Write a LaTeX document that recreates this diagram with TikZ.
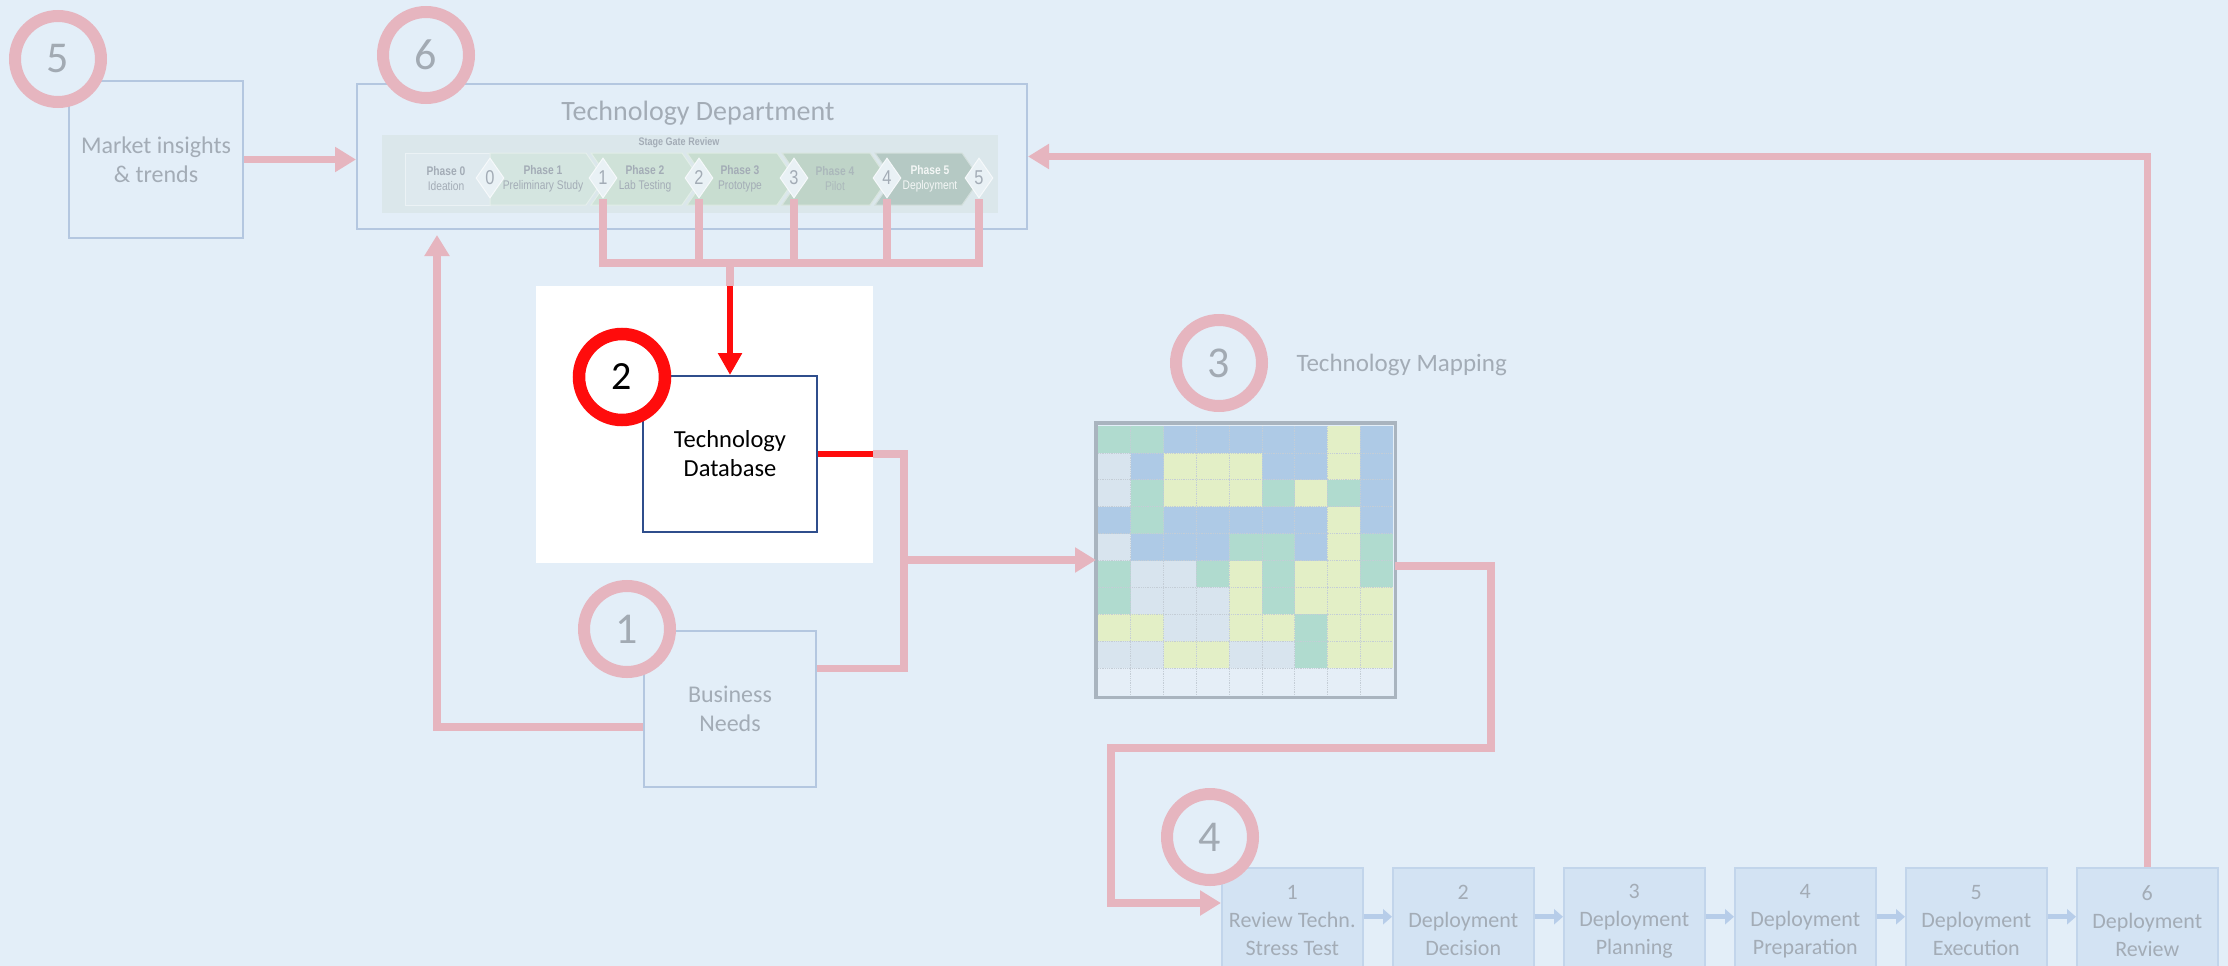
\documentclass[tikz,border=0pt]{standalone}
\usepackage{fontspec}
\setmainfont{Carlito}
\newfontfamily\narrowfont[FakeStretch=0.82]{Liberation Sans}
\usetikzlibrary{arrows.meta,calc,shapes.geometric}
\definecolor{bg}{HTML}{E3EEF8}
\definecolor{pinkl}{HTML}{E6B5BF}
\definecolor{grayt}{HTML}{A3ACB6}
\definecolor{boxb}{HTML}{B4C7E0}
\definecolor{dbb}{HTML}{2F4E8C}
\definecolor{redc}{HTML}{FF0C0C}
\definecolor{sgpanel}{HTML}{DBE7EB}
\definecolor{ph0}{HTML}{DEE9EE}
\definecolor{ph1}{HTML}{D4E5E0}
\definecolor{ph2}{HTML}{CFE2D8}
\definecolor{ph3}{HTML}{C8DDD0}
\definecolor{ph4}{HTML}{BFD4C8}
\definecolor{ph5}{HTML}{B5C9C4}
\definecolor{dmd}{HTML}{E9F1F5}
\definecolor{cG}{HTML}{B0DBCF}
\definecolor{cB}{HTML}{AECAE6}
\definecolor{cY}{HTML}{E3EFC6}
\definecolor{cL}{HTML}{D8E4EE}
\definecolor{cW}{HTML}{E5EEF7}
\definecolor{gridl}{HTML}{C4CDD6}
\definecolor{framec}{HTML}{A9B4BF}
\definecolor{bfill}{HTML}{D3E3F3}
\definecolor{bbord}{HTML}{C2D5EB}
\definecolor{sarr}{HTML}{B7CDE9}
\definecolor{ringt}{HTML}{A2AAB3}
\begin{document}
\begin{tikzpicture}[x=1pt,y=-1pt,
  ring/.style={circle, draw=pinkl, fill=bg, line width=12pt, minimum size=86pt, inner sep=0pt, text=ringt, font=\fontsize{44}{44}\selectfont},
  pbox/.style={draw=boxb, line width=2pt, text=grayt, align=center, font=\fontsize{24}{29}\selectfont, anchor=north west, inner sep=0pt},
  stepbox/.style={fill=bfill, draw=bbord, line width=1.5pt, text=grayt, align=center, font=\fontsize{22}{28}\selectfont, anchor=north west, inner sep=0pt, minimum width=141pt, minimum height=106pt},
  flow/.style={draw=pinkl, line width=7.5pt},
  flowarrow/.style={flow, -{Triangle[length=21pt,width=24pt]}},
  redline/.style={draw=redc, line width=5.5pt},
  redarrow/.style={redline, -{Triangle[length=22pt,width=23pt]}},
  sarrow/.style={draw=sarr, line width=5pt, -{Triangle[length=9pt,width=15pt]}},
  gate/.style={diamond, fill=dmd, draw=white!60!dmd, line width=1pt, minimum width=28pt, minimum height=40pt, inner sep=0pt, text=grayt, font=\narrowfont\fontsize{20}{20}\selectfont},
  plabel/.style={align=center, text=grayt, font=\narrowfont\fontsize{12.5}{15}\selectfont},
  chev/.style={draw=white!40!#1, line width=1pt, fill=#1}
]
\useasboundingbox (0,0) rectangle (2228,966);
\clip (0,0) rectangle (2228,966);
\fill[bg] (0,0) rectangle (2228,966);

% white panel
\node[fill=white, minimum width=337pt, minimum height=277pt, anchor=north west, inner sep=0pt] (wp) at (536,286) {};

% Technology Department
\node[pbox, minimum width=670pt, minimum height=145pt] (td) at (356,83) {};
\node[text=grayt, font=\fontsize{28}{28}\selectfont] (tdt) at (698,113) {Technology Department};
\node[fill=sgpanel, minimum width=616pt, minimum height=78pt, anchor=north west, inner sep=0pt] (sg) at (382,135) {};
\node[text=grayt, font=\narrowfont\bfseries\fontsize{11}{11}\selectfont] (sgt) at (679,143) {Stage Gate Review};
\node[fill=ph0, draw=white!40!ph0, line width=1pt, minimum width=85pt, minimum height=52pt, anchor=north west, inner sep=0pt] (p0) at (405,153) {};
\fill[chev=ph1] (490,153) -- (586,153) -- (604,179) -- (586,205) -- (490,205) -- cycle;
\fill[chev=ph2] (591,153) -- (682,153) -- (700,179) -- (682,205) -- (591,205) -- (609,179) -- cycle;
\fill[chev=ph3] (687,153) -- (777,153) -- (795,179) -- (777,205) -- (687,205) -- (705,179) -- cycle;
\fill[chev=ph4] (782,153) -- (870,153) -- (888,179) -- (870,205) -- (782,205) -- (800,179) -- cycle;
\fill[chev=ph5] (875,153) -- (962,153) -- (980,179) -- (962,205) -- (875,205) -- (893,179) -- cycle;
\node[plabel] (l0) at (446,179) {\textbf{Phase 0}\\Ideation};
\node[plabel] (l1) at (543,179) {\textbf{Phase 1}\\Preliminary Study};
\node[plabel] (l2) at (645,179) {\textbf{Phase 2}\\Lab Testing};
\node[plabel] (l3) at (740,179) {\textbf{Phase 3}\\Prototype};
\node[plabel, text=grayt!70!ph4] (l4) at (835,179) {\textbf{Phase 4}\\Pilot};
\node[plabel, text=white!85!ph5] (l5) at (930,179) {\textbf{Phase 5}\\Deployment};
\node[gate] (d0) at (490,178) {0};
\node[gate] (d1) at (603,178) {1};
\node[gate] (d2) at (699,178) {2};
\node[gate] (d3) at (794,178) {3};
\node[gate] (d4) at (887,178) {4};
\node[gate] (d5) at (979,178) {5};

% Market insights
\node[pbox, minimum width=174pt, minimum height=157pt] (mi) at (68,80) {Market insights\\\& trends};

% Business needs
\node[pbox, minimum width=172pt, minimum height=156pt] (bn) at (643,630) {Business\\Needs};

% Technology database
\node[draw=dbb, line width=2pt, fill=white, minimum width=174pt, minimum height=156pt, anchor=north west, inner sep=0pt, align=center, font=\fontsize{24.5}{29}\selectfont] (db) at (642,375) {Technology\\Database};

% Technology map
\node[minimum width=299pt, minimum height=274pt, anchor=north west, inner sep=0pt] (map) at (1096,423) {};
\foreach \rw [count=\r from 0] in {{G,G,B,B,B,B,B,Y,B},{L,B,Y,Y,Y,B,B,Y,B},{L,G,Y,Y,Y,G,Y,G,B},{B,G,B,B,B,B,B,Y,B},{L,B,B,B,G,G,B,Y,G},{G,L,L,G,Y,G,Y,Y,G},{G,L,L,L,Y,G,Y,Y,Y},{Y,Y,L,L,Y,Y,G,Y,Y},{L,L,Y,Y,L,L,G,Y,Y},{W,W,W,W,W,W,W,W,W}} {
  \foreach \c [count=\k from 0] in \rw {
    \fill[c\c] ({1098+\k*32.78},{426+\r*26.9}) rectangle ++(32.78,26.9);
  }
}
\foreach \k in {1,...,8} {\draw[gridl, densely dotted, line width=0.8pt] ({1098+\k*32.78},426) -- ({1098+\k*32.78},695);}
\foreach \r in {1,...,9} {\draw[gridl, densely dotted, line width=0.8pt] (1098,{426+\r*26.9}) -- (1393,{426+\r*26.9});}
\draw[framec, line width=3.5pt] (map.north west) rectangle (map.south east);
\node[anchor=west, text=grayt, font=\fontsize{25}{25}\selectfont] (tml) at (1293,365) {Technology Mapping};

% bottom steps
\node[stepbox] (b1) at (1221,867) {1\\Review Techn.\\Stress Test};
\node[stepbox] (b2) at (1392,867) {2\\Deployment\\Decision};
\node[stepbox] (b3) at (1563,867) {3\\Deployment\\Planning};
\node[stepbox] (b4) at (1734,867) {4\\Deployment\\Preparation};
\node[stepbox] (b5) at (1905,867) {5\\Deployment\\Execution};
\node[stepbox] (b6) at (2076,867) {6\\Deployment\\Review};
\draw[sarrow] ([yshift=4pt]b1.east) -- ([yshift=4pt]b2.west);
\draw[sarrow] ([yshift=4pt]b2.east) -- ([yshift=4pt]b3.west);
\draw[sarrow] ([yshift=4pt]b3.east) -- ([yshift=4pt]b4.west);
\draw[sarrow] ([yshift=4pt]b4.east) -- ([yshift=4pt]b5.west);
\draw[sarrow] ([yshift=4pt]b5.east) -- ([yshift=4pt]b6.west);

% coordinates
\coordinate (bry) at (0,263);
\coordinate (jx) at (904,560);
\coordinate (bnr) at ($(bn.north east)!0.245!(bn.south east)$);
\coordinate (bnl) at ($(bn.north west)!0.615!(bn.south west)$);
\coordinate (tdin) at (437,235);
\coordinate (mo) at ($(map.east)+(0,6)$);
\coordinate (r1) at (1491,748);
\coordinate (l1) at (1111,748);
\coordinate (b1in) at ($(b1.north west)+(0,36)$);

% flows
\draw[flowarrow] (mi.east) -- (mi.east -| td.west);
\draw[flowarrow] (b6.north) |- (td.east);
\draw[flow] (d1.south) |- (d5.south |- bry) -- (d5.south);
\draw[flow] (d2.south) -- (d2.south |- bry);
\draw[flow] (d3.south) -- (d3.south |- bry);
\draw[flow] (d4.south) -- (d4.south |- bry);
\draw[flow] (db.north |- bry) -- (db.north |- wp.north);
\draw[redarrow] (db.north |- wp.north) -- (db.north);
\draw[redline] (db.east) -- (db.east -| wp.east);
\draw[flow] (db.east -| wp.east) -| (bnr -| jx) -- (bnr);
\draw[flowarrow] (jx) -- (jx -| map.west);
\draw[flowarrow] (mo) -| (r1) -- (l1) |- (b1in);
\draw[flowarrow] (bnl) -| (tdin);

% numbered rings
\node[ring] (c5) at (58,59) {5};
\node[ring] (c6) at (426,55) {6};
\node[ring] (c1) at (627,629) {1};
\node[ring] (c3) at (1219,363) {3};
\node[ring] (c4) at (1210,837) {4};
\node[ring, draw=redc, fill=white, line width=12.5pt, text=black, font=\fontsize{40}{40}\selectfont] (c2) at (622,377) {2};
\end{tikzpicture}
\end{document}
